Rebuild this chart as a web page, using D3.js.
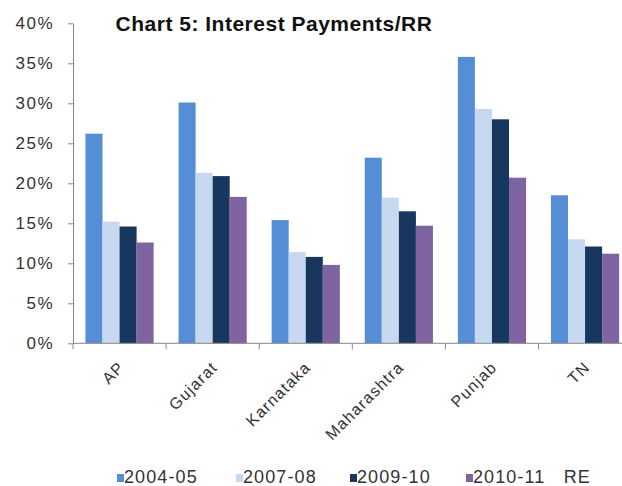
<!DOCTYPE html>
<html>
<head>
<meta charset="utf-8">
<script src="https://cdn.jsdelivr.net/npm/d3@7"></script>
<style>
  html, body { margin: 0; padding: 0; background: #fff; }
  svg { display: block; font-family: Arial, "Liberation Sans", sans-serif; }
</style>
</head>
<body>
<div id="chart"></div>
<script>
// Interest payments as a share of revenue receipts, by state
const states = ["AP", "Gujarat", "Karnataka", "Maharashtra", "Punjab", "TN"];
const seriesNames = ["2004-05", "2007-08", "2009-10", "2010-11   RE"];
const v2004 = [26.2, 30.1, 15.4, 23.2, 35.8, 18.5];
const v2007 = [15.2, 21.3, 11.4, 18.2, 29.3, 13.0];
const v2009 = [14.6, 20.9, 10.8, 16.5, 28.0, 12.1];
const v2010 = [12.6, 18.3, 9.8, 14.7, 20.7, 11.2];
const yTicks = [0, 5, 10, 15, 20, 25, 30, 35, 40];
const colors = ["#558ed5", "#c6d9f1", "#17375e", "#8064a2"];

const seriesValues = [v2004, v2007, v2009, v2010];

const W = 622, H = 486;
const svg = d3.select("#chart").append("svg").attr("width", W).attr("height", H);

const x0 = 73, bandW = 93.1;
const x = d3.scaleBand().domain(states).range([x0, x0 + bandW * states.length]);
const xi = d3.scaleBand().domain(d3.range(4)).range([0, x.bandwidth()])
  .paddingInner(0).paddingOuter(0.73);
const y = d3.scaleLinear().domain([0, 40]).range([343.3, 23.3]);

// bars, one group per state
const groups = svg.append("g").selectAll("g").data(states).join("g")
  .attr("transform", s => `translate(${x(s)},0)`);
groups.selectAll("rect")
  .data((s, i) => seriesValues.map((vals, k) => ({ k, v: vals[i] })))
  .join("rect")
  .attr("x", d => xi(d.k))
  .attr("width", xi.bandwidth())
  .attr("y", d => y(d.v))
  .attr("height", d => y(0) - y(d.v))
  .attr("fill", d => colors[d.k]);

// y axis
const yAxis = svg.append("g").attr("transform", `translate(${x0},0)`)
  .call(d3.axisLeft(y).tickValues(yTicks).tickFormat(d => d + "%").tickSize(5).tickSizeOuter(0));
yAxis.select(".domain").attr("stroke", "#868686");
yAxis.selectAll(".tick line").attr("stroke", "#868686");
yAxis.selectAll(".tick text").attr("x", -19).attr("font-size", 17).attr("fill", "#333")
  .attr("letter-spacing", 1.5)
  .attr("font-family", "Arial, 'Liberation Sans', sans-serif");

// x axis with ticks at category boundaries
const xAxis = svg.append("g").attr("transform", `translate(0,${y(0)})`);
xAxis.append("line").attr("x1", x0).attr("x2", x0 + bandW * states.length)
  .attr("stroke", "#868686");
xAxis.selectAll("line.tick").data(d3.range(states.length + 1)).join("line")
  .attr("class", "tick")
  .attr("x1", i => x0 + bandW * i).attr("x2", i => x0 + bandW * i)
  .attr("y1", 0).attr("y2", 6).attr("stroke", "#868686");
xAxis.selectAll("text").data(states).join("text")
  .attr("transform", s => `translate(${x(s) + x.bandwidth() / 2 + 2},21) rotate(-45)`)
  .attr("text-anchor", "end")
  .attr("dy", "0.35em")
  .attr("font-size", 16)
  .attr("letter-spacing", 1.2)
  .attr("fill", "#333")
  .text(s => s);

// title
svg.append("text")
  .attr("x", 274).attr("y", 31)
  .attr("text-anchor", "middle")
  .attr("font-size", 21).attr("font-weight", "bold").attr("fill", "#111")
  .attr("letter-spacing", 0.5)
  .text("Chart 5:  Interest Payments/RR");

// legend
const legendX = [117, 236, 350, 466];
const legend = svg.append("g").selectAll("g").data(seriesNames).join("g")
  .attr("transform", (n, k) => `translate(${legendX[k]},0)`);
legend.append("rect").attr("y", 474).attr("width", 7).attr("height", 8).attr("fill", (n, k) => colors[k]);
legend.append("text").attr("x", 7).attr("y", 483)
  .attr("font-size", 18).attr("fill", "#333").attr("letter-spacing", 1.1)
  .style("white-space", "pre")
  .text(n => n);
</script>
</body>
</html>
